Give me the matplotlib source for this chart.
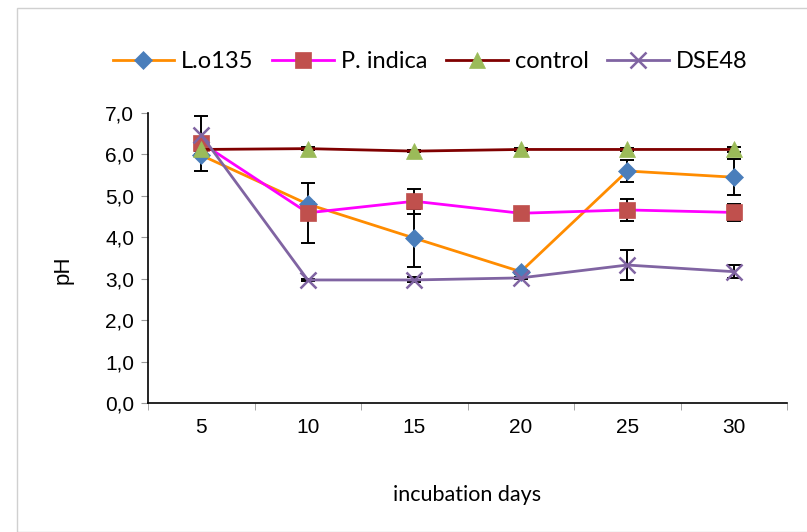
"""pH over incubation days for four fungal treatments."""

import matplotlib
matplotlib.use("Agg")
import matplotlib.pyplot as plt
from matplotlib.patches import Rectangle
from matplotlib.ticker import FixedLocator

days = ["5", "10", "15", "20", "25", "30"]

lo135 = [5.98, 4.80, 3.98, 3.17, 5.60, 5.45]
lo135_err = [0.37, 0.05, 0.70, 0.05, 0.27, 0.44]

pindica = [6.28, 4.59, 4.87, 4.58, 4.66, 4.60]
pindica_err = [0.05, 0.72, 0.30, 0.05, 0.27, 0.20]

control = [6.12, 6.14, 6.08, 6.12, 6.12, 6.12]
control_err = [0.03, 0.03, 0.03, 0.03, 0.03, 0.07]

dse48 = [6.47, 2.97, 2.97, 3.02, 3.33, 3.17]
dse48_err = [0.45, 0.03, 0.06, 0.03, 0.36, 0.15]

W, H = 807, 532
fig = plt.figure(figsize=(W / 100, H / 100), dpi=100)
fig.patches.append(Rectangle((17 / W, 0), 1, 1 - 8 / H, transform=fig.transFigure,
                             fill=False, edgecolor="#d0d0d0", linewidth=1))

ax = fig.add_axes([148 / W, 1 - 403 / H, (787 - 148) / W, (403 - 113) / H])
x = list(range(len(days)))

series = [
    ("L.o135", lo135, lo135_err, "#ff8c00", "D", "#4a7ebb", 9),
    ("P. indica", pindica, pindica_err, "#ff00ff", "s", "#c0504d", 11),
    ("control", control, control_err, "#800000", "^", "#9bbb59", 12),
    ("DSE48", dse48, dse48_err, "#8064a2", "x", "#8064a2", 12),
]

handles = []
for name, vals, errs, lc, mk, mc, ms in series:
    ax.errorbar(x, vals, yerr=errs, fmt="none", ecolor="black", elinewidth=1.4,
                capsize=5, capthick=1.4, zorder=2)
    h, = ax.plot(x, vals, color=lc, linewidth=2, marker=mk, markersize=ms,
                 markerfacecolor=mc, markeredgecolor=mc, markeredgewidth=1.8 if mk == "x" else 0.5,
                 label=name, zorder=3)
    handles.append(h)

ax.set_xlim(-0.5, len(days) - 0.5)
ax.set_ylim(0, 7)
ax.set_yticks([0, 1, 2, 3, 4, 5, 6, 7])
ax.set_yticklabels([f"{v:.1f}".replace(".", ",") for v in range(8)],
                   fontsize=15, family="Liberation Sans")
ax.set_xticks(x)
ax.set_xticklabels(days, fontsize=15, family="Liberation Sans")
ax.xaxis.set_minor_locator(FixedLocator([i - 0.5 for i in range(len(days) + 1)]))
ax.tick_params(axis="x", which="major", length=0, pad=11)
ax.tick_params(axis="x", which="minor", length=5, color="#999999", direction="out")
ax.tick_params(axis="y", length=5, color="#999999", pad=5)

ax.spines["top"].set_visible(False)
ax.spines["right"].set_visible(False)
ax.spines["left"].set_linewidth(1.2)
ax.spines["bottom"].set_linewidth(1.2)

fig.text(467 / W, 1 - 495 / H, "incubation days", ha="center", va="center",
         fontsize=15.5, family="Lato")
fig.text(63 / W, 1 - 270 / H, "pH", ha="center", va="center", rotation=90,
         fontsize=16, family="Liberation Sans")

fig.legend(handles=handles, loc="center", bbox_to_anchor=(430 / W, 1 - 62 / H), ncol=4,
           frameon=False, prop={"family": "Lato", "size": 17}, handlelength=2.6,
           columnspacing=0.8, handletextpad=0.3)

fig.savefig("out.png", dpi=100)
